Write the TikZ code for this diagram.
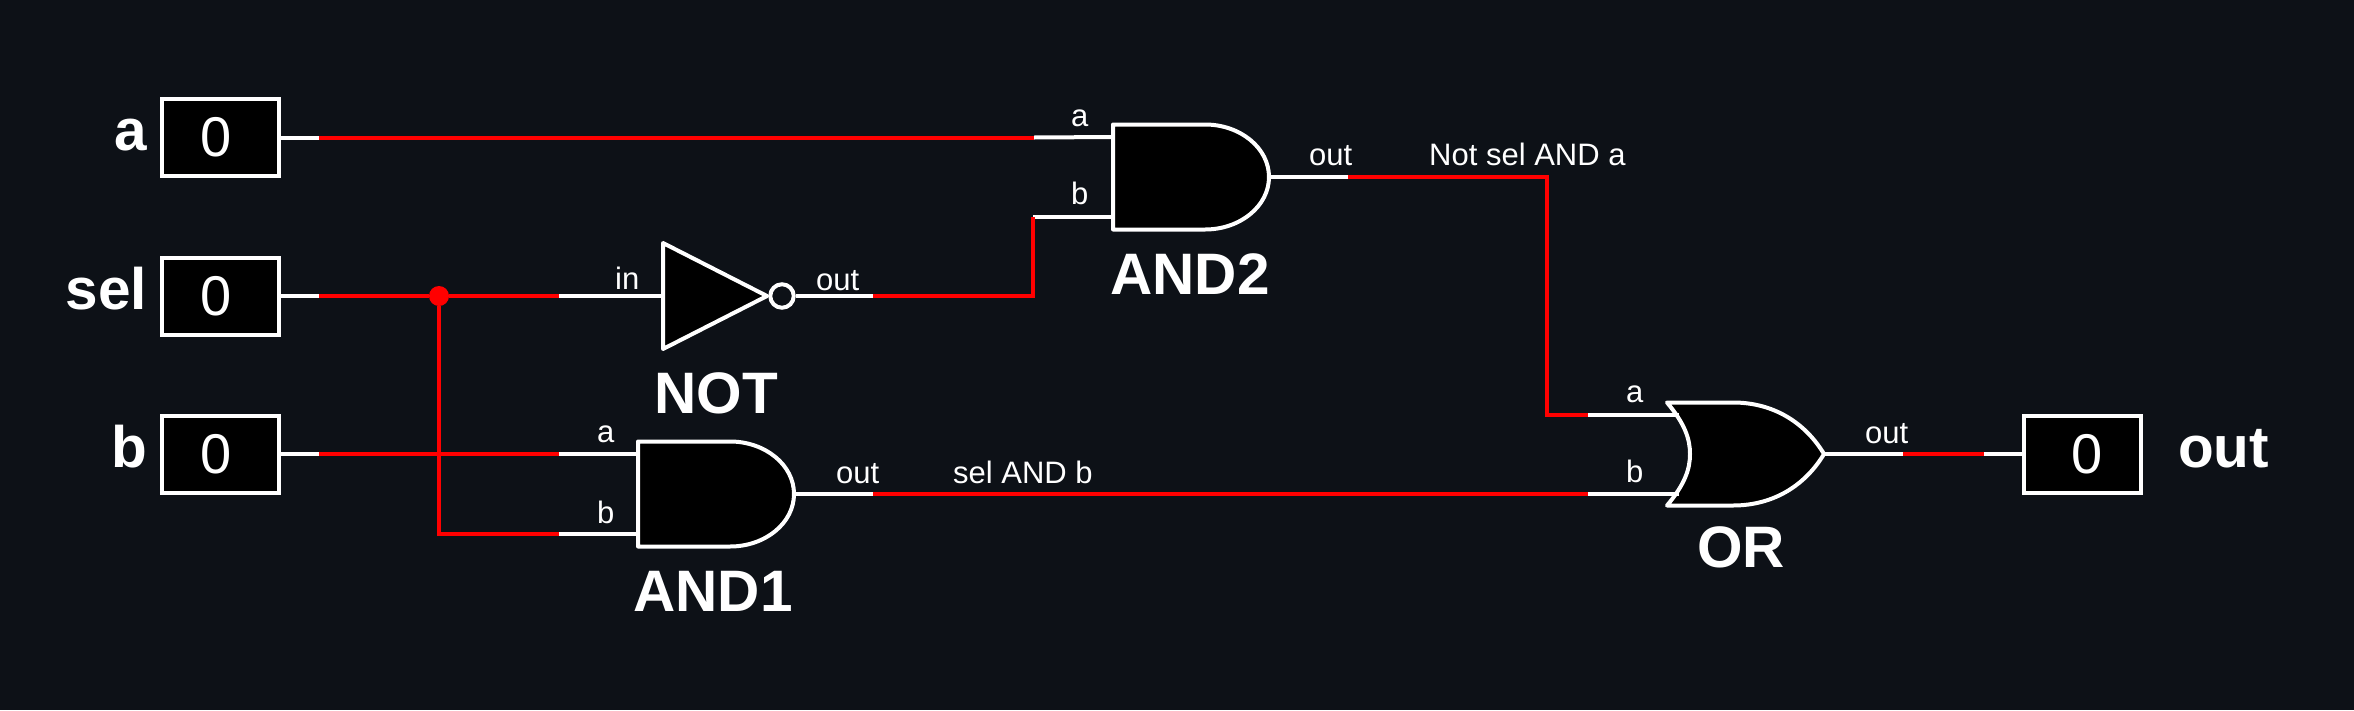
\documentclass[tikz,border=0pt]{standalone}
\usepackage{fontspec}
\setmainfont{Liberation Sans}
\definecolor{boardbg}{HTML}{0D1117}
\definecolor{hotred}{HTML}{FF0000}
\tikzset{%
  wire/.style      = {draw=white, line width=4pt},%
  hotwire/.style   = {draw=hotred, line width=4pt},%
  valbox/.style    = {shape=rectangle, draw=white, fill=black, line width=4pt,%
                      text=white, inner sep=0pt, minimum width=117pt,%
                      minimum height=77pt, font=\fontsize{56}{60}\selectfont},%
  portname/.style  = {text=white, inner sep=0pt, font=\bfseries\fontsize{58.5}{60}\selectfont},%
  gatename/.style  = {portname, anchor=base},%
  pinlabel/.style  = {text=white, inner sep=0pt, anchor=base west,%
                      font=\fontsize{31}{32}\selectfont},%
  gatebody/.style  = {draw=white, fill=black, line width=4pt, line join=round},%
  junction/.style  = {circle, fill=hotred, inner sep=0pt, minimum size=20pt},%
  andgate/.pic     = {%
    \draw[gatebody] (0,-52.5) -- (92,-52.5) arc[start angle=-90, end angle=90,
      x radius=64, y radius=52.5] -- (0,52.5) -- cycle;
    \coordinate (-a) at (0,-40);
    \coordinate (-b) at (0,40);
    \coordinate (-out) at (156,0);},%
  orgate/.pic      = {%
    \draw[gatebody] (0,-51.5) -- (66,-51.5)
      .. controls (108,-51.5) and (139,-30) .. (157,0)
      .. controls (139,30) and (108,51.5) .. (66,51.5) -- (0,51.5)
      .. controls (18,30) and (23,15) .. (23,0)
      .. controls (23,-15) and (18,-30) .. (0,-51.5) -- cycle;
    \coordinate (-a) at (12,-39);
    \coordinate (-b) at (12,40);
    \coordinate (-out) at (157,0);},%
  notgate/.pic     = {%
    \draw[gatebody] (0,-53) -- (104,0) -- (0,53) -- cycle;
    \node[circle, draw=white, fill=boardbg, line width=4pt, inner sep=0pt,
      minimum size=23.5pt] (-ring) at (119,0) {};
    \coordinate (-in) at (0,0);
    \coordinate (-out) at (-ring.east);}%
}

\begin{document}
\begin{tikzpicture}[x=1pt,y=-1pt]
	\fill[boardbg] (0,0) rectangle (2354,710);
	\useasboundingbox (0,0) rectangle (2354,710);

	% input and output boxes
	\node[valbox] (a) at (220,137.5) {0\kern8pt};
	\node[valbox] (sel) at (220,296) {0\kern8pt};
	\node[valbox] (b) at (220,454) {0\kern8pt};
	\node[valbox] (q) at (2082,454) {\kern10pt0};
	\node[portname, anchor=base east] (aName) at (147,150) {a};
	\node[portname, anchor=base east] (selName) at (147,309) {sel};
	\node[portname, anchor=base east] (bName) at (147,467) {b};
	\node[portname, anchor=base west] (qName) at (2178,467) {out};

	% gates
	\pic (and1) at (638,494) {andgate};
	\pic (and2) at (1113,177) {andgate};
	\pic (inv) at (663,296) {notgate};
	\pic (or) at (1667,454) {orgate};
	\node[gatename] (and1Name) at (713,611) {AND1};
	\node[gatename] (and2Name) at (1190,294) {AND2};
	\node[gatename] (invName) at (716,413) {NOT};
	\node[gatename] (orName) at (1741,567) {OR};

	% where the wires change colour
	\coordinate (aTap) at (319,137.5);
	\coordinate (selTap) at (319,296);
	\coordinate (bTap) at (319,454);
	\coordinate (and2a) at (1034,137.5);
	\coordinate (and2b) at (1033,217);
	\coordinate (bendA) at (1033,296);
	\coordinate (invIn) at (559,296);
	\coordinate (invOut) at (873,296);
	\coordinate (and1a) at (559,454);
	\coordinate (and1b) at (559,534);
	\coordinate (and1Out) at (873,494);
	\coordinate (and2Out) at (1348,177);
	\coordinate (bendB) at (1547,177);
	\coordinate (bendC) at (1547,415);
	\coordinate (orA) at (1588,415);
	\coordinate (orB) at (1588,494);
	\coordinate (orOutA) at (1903,454);
	\coordinate (orOutB) at (1984,454);
	\coordinate (dropBot) at (439,534);
	\node[junction] (dot) at (439,296) {};

	% white stubs
	\draw[wire] (a.east) -- (aTap);
	\draw[wire] (sel.east) -- (selTap);
	\draw[wire] (b.east) -- (bTap);
	\draw[wire] (invIn) -- (inv-in);
	\draw[wire] (inv-out) -- (invOut);
	\draw[wire] (and1a) -- (and1-a);
	\draw[wire] (and1b) -- (and1-b);
	\draw[wire] (and1-out) -- (and1Out);
	\draw[wire] (and2a) -- (and2-a);
	\draw[wire] (and2b) -- (and2-b);
	\draw[wire] (and2-out) -- (and2Out);
	\draw[wire] (orA) -- (or-a);
	\draw[wire] (orB) -- (or-b);
	\draw[wire] (or-out) -- (orOutA);
	\draw[wire] (orOutB) -- (q.west);

	% red runs
	\draw[hotwire] (aTap) -- (and2a);
	\draw[hotwire] (selTap) -- (dot) -- (invIn);
	\draw[hotwire] (bTap) -- (and1a);
	\draw[hotwire] (dot) -- (dropBot) -- (and1b);
	\draw[hotwire] (invOut) -- (bendA) -- (and2b);
	\draw[hotwire] (and2Out) -- (bendB) -- (bendC) -- (orA);
	\draw[hotwire] (and1Out) -- (orB);
	\draw[hotwire] (orOutA) -- (orOutB);

	% pin and wire labels
	\node[pinlabel] (inLabel) at (615,289) {in};
	\node[pinlabel] (invOutLabel) at (816,290) {out};
	\node[pinlabel] (and1aLabel) at (597,442) {a};
	\node[pinlabel] (and1bLabel) at (597,523) {b};
	\node[pinlabel] (and1OutLabel) at (836,483) {out};
	\node[pinlabel] (and2aLabel) at (1071,126) {a};
	\node[pinlabel] (and2bLabel) at (1071,204) {b};
	\node[pinlabel] (and2OutLabel) at (1309,165) {out};
	\node[pinlabel] (orALabel) at (1626,402) {a};
	\node[pinlabel] (orBLabel) at (1626,482) {b};
	\node[pinlabel] (orOutLabel) at (1865,443) {out};
	\node[pinlabel] (selAndB) at (953,483) {sel AND b};
	\node[pinlabel] (notSelAndA) at (1429,165) {Not sel AND a};
\end{tikzpicture}
\end{document}
